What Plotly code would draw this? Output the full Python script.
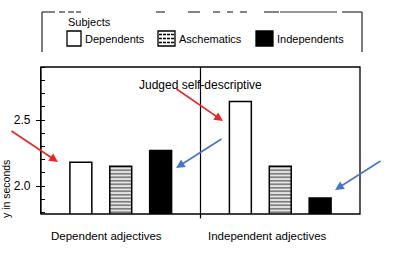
import plotly.graph_objects as go

# ---- data ----
categories = ["Dependent adjectives", "Independent adjectives"]
series_names = ["Dependents", "Aschematics", "Independents"]
dependents = [2.18, 2.64]
aschematics = [2.15, 2.15]
independents = [2.27, 1.91]
y_tickvals = [2.0, 2.5]
y_ticktext = ["2.0", "2.5"]
y_title = "y in seconds"
legend_title = "Subjects"
note_text = "Judged self-descriptive"

FONT = "Liberation Sans"
W, H = 394, 256
L, R, T, B = 41, 34, 67, 42
PW, PH = W - L - R, H - T - B


def px(x):
    return (x - L) / PW


def py(y):
    return (T + PH - y) / PH


fig = go.Figure()
styles = [
    dict(color="white", pattern=None),
    dict(color="white", pattern=dict(shape="-", fgcolor="black", bgcolor="white", size=3.5, solidity=0.6)),
    dict(color="black", pattern=None),
]
for name, vals, st in zip(series_names, [dependents, aschematics, independents], styles):
    marker = dict(color=st["color"], line=dict(color="black", width=1.5))
    if st["pattern"]:
        marker["pattern"] = st["pattern"]
    fig.add_trace(go.Bar(x=categories, y=vals, name=name, marker=marker, showlegend=False))

fig.update_layout(
    width=W, height=H,
    margin=dict(l=L, r=R, t=T, b=B),
    paper_bgcolor="white", plot_bgcolor="white",
    barmode="group", bargap=0.25, bargroupgap=0.45,
    font=dict(family=FONT, color="black", size=11),
    xaxis=dict(range=[-0.5, 1.5], showticklabels=False, ticks="", showline=False,
               showgrid=False, zeroline=False),
    yaxis=dict(range=[1.788, 2.902], tickvals=y_tickvals, ticktext=y_ticktext,
               ticks="outside", ticklen=4, tickwidth=1.2, tickcolor="black",
               tickfont=dict(size=12, family=FONT, color="black"), ticklabelstandoff=3,
               minor=dict(dtick=0.1, tick0=0, ticks="inside", ticklen=4, tickwidth=1, tickcolor="black"),
               showline=True, linecolor="black", linewidth=1.3,
               showgrid=False, zeroline=False),
)

shapes = []
# plot frame
shapes.append(dict(type="rect", xref="paper", yref="paper", x0=0, x1=1, y0=0, y1=1,
                   line=dict(color="black", width=1.3), layer="above"))
# divider between groups
shapes.append(dict(type="line", xref="x", yref="paper", x0=0.5, x1=0.5, y0=-0.03, y1=1,
                   line=dict(color="black", width=1.2)))
# legend frame (open bottom, broken top)
shapes.append(dict(type="line", xref="paper", yref="paper", x0=px(42), x1=px(42), y0=py(12), y1=py(52),
                   line=dict(color="#222", width=1.2)))
shapes.append(dict(type="line", xref="paper", yref="paper", x0=px(362), x1=px(362), y0=py(12), y1=py(52),
                   line=dict(color="#222", width=1.2)))
for a, b in [(42, 55), (59, 65), (68, 74), (76, 81), (156, 165), (188, 200), (213, 220),
             (227, 233), (240, 247), (264, 279), (280, 337), (342, 362)]:
    shapes.append(dict(type="line", xref="paper", yref="paper", x0=px(a), x1=px(b), y0=py(12), y1=py(12),
                       line=dict(color="#333", width=1.2)))
# legend swatches
shapes.append(dict(type="rect", xref="paper", yref="paper", x0=px(67), x1=px(81), y0=py(46), y1=py(31),
                   fillcolor="white", line=dict(color="black", width=1.3)))
shapes.append(dict(type="rect", xref="paper", yref="paper", x0=px(158), x1=px(175), y0=py(46), y1=py(31),
                   fillcolor="white", line=dict(color="black", width=1.3)))
for yy in [34.5, 38.5, 42.5]:
    shapes.append(dict(type="line", xref="paper", yref="paper", x0=px(159), x1=px(174), y0=py(yy), y1=py(yy),
                       line=dict(color="black", width=1.3, dash="3px,1px")))
shapes.append(dict(type="rect", xref="paper", yref="paper", x0=px(256), x1=px(273), y0=py(46), y1=py(31),
                   fillcolor="black", line=dict(color="black", width=1.3)))
fig.update_layout(shapes=shapes)

ann = []
ann.append(dict(text=legend_title, xref="paper", yref="paper", x=px(66), y=py(22), xanchor="left",
                yanchor="middle", showarrow=False, font=dict(size=11)))
for name, xl in zip(series_names, [83, 177, 275]):
    ann.append(dict(text=name, xref="paper", yref="paper", x=px(xl), y=py(39), xanchor="left",
                    yanchor="middle", showarrow=False, font=dict(size=11)))
for cat, shift in zip(categories, [-14, -13]):
    ann.append(dict(text=cat, xref="x", yref="paper", x=cat, y=py(236), xshift=shift, xanchor="center",
                    yanchor="middle", showarrow=False, font=dict(size=11.5)))
ann.append(dict(text=y_title, xref="paper", yref="paper", x=px(6), y=py(189), textangle=-90,
                xanchor="center", yanchor="middle", showarrow=False, font=dict(size=10.5)))
ann.append(dict(text=note_text, xref="paper", yref="paper", x=px(201), y=py(85), xanchor="center",
                yanchor="middle", showarrow=False, font=dict(size=12)))
arrows = [((10, 130), (58, 162), "#e8262a"), ((175, 88), (223, 121), "#e8262a"),
          ((223, 138), (176, 168), "#4a74cc"), ((382, 160), (335, 190), "#4a74cc")]
for (tx, ty), (hx, hy), col in arrows:
    ann.append(dict(text="", xref="paper", yref="paper", x=px(hx), y=py(hy), ax=tx - hx, ay=ty - hy,
                    showarrow=True, arrowhead=2, arrowsize=1.1, arrowwidth=1.6, arrowcolor=col, standoff=0))
fig.update_layout(annotations=ann)

fig.write_html("out.html")
